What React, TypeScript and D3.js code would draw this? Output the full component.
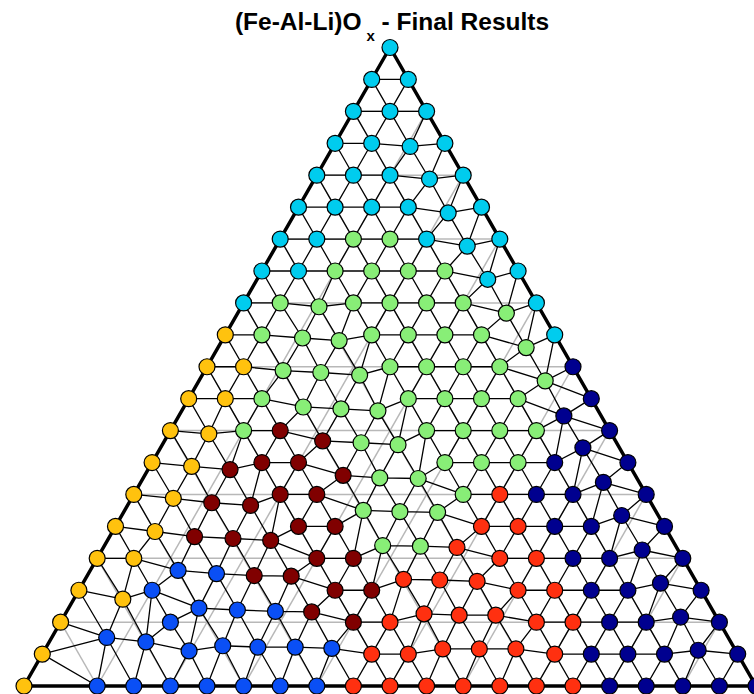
import React, { useEffect, useRef } from 'react';
import * as d3 from 'd3';

// sample grid: 20 divisions (5 % steps), row 0 = top corner, index runs left -> right
// cluster codes per node, '.' = no sample at that node
const clusterRows = [
  'C',
  'CC',
  'CCC',
  'CCCC',
  'CCCCC',
  'CCCCCC',
  'CCGGCCC',
  'CCGGGGCC',
  'CGGGGGGGC',
  'YGGGGGGGGC',
  'YYGGGGGGGGN',
  'YYGGGGGGGGNN',
  'YYGMMGGGGGGNN',
  'YYMMMMGGGGGN.N',
  'YYMMMMGGGGRNNNN',
  'YYMMMMM...RRNNNN',
  'YYBBMMMMGGRRRNNNN',
  'YYB....MMRRRRRNNNN',
  'YB.BBBBMMRRRRRRNNNN',
  'Y..BBBBBBRRRRRRNNNNN',
  'Y.BBBBBBBRRRRRRRNNNNN',
];

// measured compositions that sit off the nominal grid: [row, index, dTop %, dRight %]
const shifts: [number, number, number, number][] = [
  [3, 2, -0.5, 0.5], [4, 3, -0.6, 0.7], [5, 4, -0.9, 0.9], [6, 5, -1.1, 1.1], [7, 6, -1.3, 1.5],
  [8, 7, -1.6, 1.7], [9, 8, -2.0, 2.1], [10, 9, -2.2, 2.3], [11, 10, -2.7, 2.6], [12, 11, -2.7, 2.7],
  [14, 13, 1.9, -1.8], [15, 14, 1.7, -1.7], [16, 15, 1.3, -1.2], [17, 16, 1.1, -1.1],
  [18, 17, 0.8, -0.7], [19, 18, 0.6, -0.7],
  [8, 2, -0.6, 0.6], [9, 2, -0.5, 0.8], [9, 3, -0.9, 1.0],
  [10, 2, -0.6, 0.7], [10, 3, -0.9, 1.0], [10, 4, -1.3, 1.5],
  [11, 3, -1.3, 1.3], [11, 4, -1.6, 1.6], [11, 5, -1.9, 1.8],
  [12, 4, -1.6, 1.6], [12, 5, -1.9, 2.0], [12, 6, -2.2, 2.2],
  [13, 5, -2.0, 2.1], [13, 6, -2.4, 2.3], [13, 7, -2.5, 2.6],
  [14, 6, -2.5, 2.6], [14, 7, -2.7, 2.7], [14, 8, -2.8, 2.9],
  [16, 8, 2.0, -2.0], [16, 9, 1.9, -1.8], [16, 10, 1.7, -1.7],
  [17, 9, 1.7, -1.5], [17, 10, 1.6, -1.5], [17, 11, 1.4, -1.3],
  [18, 10, 1.3, -1.0], [18, 11, 1.1, -1.1], [18, 12, 1.1, -1.1],
  [19, 11, 0.8, -0.7], [19, 12, 0.8, -0.7], [19, 13, 0.8, -0.7],
  [12, 1, -0.5, 0.5], [13, 1, -0.6, 0.7], [13, 2, -1.1, 1.2],
  [14, 1, -0.6, 0.7], [14, 2, -1.3, 1.3], [14, 3, -1.7, 1.8],
  [15, 1, -0.8, 0.8], [15, 2, -1.6, 1.6], [15, 3, -1.9, 2.0], [15, 4, -2.2, 2.3],
  [16, 2, -1.9, 2.0], [16, 3, -2.4, 2.5], [16, 4, -2.7, 2.8], [16, 5, -2.8, 2.9],
  [17, 1, -1.4, 1.7], [18, 1, -2.4, 2.5],
  [18, 4, 2.2, -2.2], [18, 5, 1.9, -1.8], [18, 6, 1.7, -1.5], [18, 7, 1.6, -1.5],
  [19, 3, 1.9, -1.8], [19, 4, 0.5, -0.2], [19, 5, 1.3, -1.0], [19, 6, 1.1, -1.1],
  [19, 7, 1.1, -1.0], [19, 8, 0.9, -0.9],
];

const clusterColors: Record<string, string> = {
  C: '#00ccee',
  G: '#88ee77',
  Y: '#ffc20e',
  B: '#0a4ff5',
  N: '#00008f',
  M: '#800000',
  R: '#ff3010',
};

const gridSteps = [10, 20, 30, 40, 50, 60, 70, 80, 90];

type Pt = { top: number; right: number; c: string };

export default function App() {
  const ref = useRef<SVGSVGElement>(null);

  useEffect(() => {
    const svg = d3.select(ref.current);
    svg.selectAll('*').remove();

    const x = d3.scaleLinear().domain([0, 100]).range([24, 756]);
    const y = d3.scaleLinear().domain([0, 100]).range([686, 47.5]);
    const px = (top: number, right: number) => x(right + top / 2);
    const py = (top: number) => y(top);

    const shiftMap = new Map(shifts.map(s => [s[0] + ',' + s[1], s]));
    const pts: Pt[] = [];
    const n = clusterRows.length - 1;
    clusterRows.forEach((row, r) => {
      row.split('').forEach((c, i) => {
        if (c === '.') return;
        let top = 100 - (r * 100) / n;
        let right = (i * 100) / n;
        const s = shiftMap.get(r + ',' + i);
        if (s) { top += s[2]; right += s[3]; }
        pts.push({ top, right, c });
      });
    });

    // ternary gridlines
    const g = svg.append('g').attr('stroke', '#b8b8b8').attr('stroke-width', 1.5);
    gridSteps.forEach(v => {
      g.append('line').attr('x1', px(v, 0)).attr('y1', py(v)).attr('x2', px(v, 100 - v)).attr('y2', py(v));
      g.append('line').attr('x1', px(0, v)).attr('y1', py(0)).attr('x2', px(100 - v, v)).attr('y2', py(100 - v));
      g.append('line').attr('x1', px(0, 100 - v)).attr('y1', py(0)).attr('x2', px(100 - v, 0)).attr('y2', py(100 - v));
    });

    // triangulation mesh
    const delaunay = d3.Delaunay.from(pts, p => px(p.top, p.right), p => py(p.top));
    svg.append('path')
      .attr('d', delaunay.render())
      .attr('fill', 'none')
      .attr('stroke', '#000')
      .attr('stroke-width', 1.3);

    // outline
    svg.append('path')
      .attr('d', `M${px(100, 0)},${py(100)}L${px(0, 0)},${py(0)}L${px(0, 100)},${py(0)}Z`)
      .attr('fill', 'none')
      .attr('stroke', '#000')
      .attr('stroke-width', 3.5)
      .attr('stroke-linejoin', 'miter');

    svg.append('g')
      .selectAll('circle')
      .data(pts)
      .join('circle')
      .attr('cx', p => px(p.top, p.right))
      .attr('cy', p => py(p.top))
      .attr('r', 8)
      .attr('fill', p => clusterColors[p.c])
      .attr('stroke', '#000')
      .attr('stroke-width', 1.2);

    const t = svg.append('text')
      .attr('x', 392)
      .attr('y', 30)
      .attr('text-anchor', 'middle')
      .attr('font-family', 'Liberation Sans, Arial, sans-serif')
      .attr('font-weight', 'bold')
      .attr('font-size', 24.5);
    t.append('tspan').text('(Fe-Al-Li)O');
    t.append('tspan').attr('dx', 5).attr('dy', 11).attr('font-size', 15).text('x');
    t.append('tspan').attr('dy', -11).text(' - Final Results');
  }, []);

  return (
    <svg
      ref={ref}
      width={754}
      height={694}
      style={{ position: 'absolute', left: 0, top: 0, background: '#fff' }}
    />
  );
}
